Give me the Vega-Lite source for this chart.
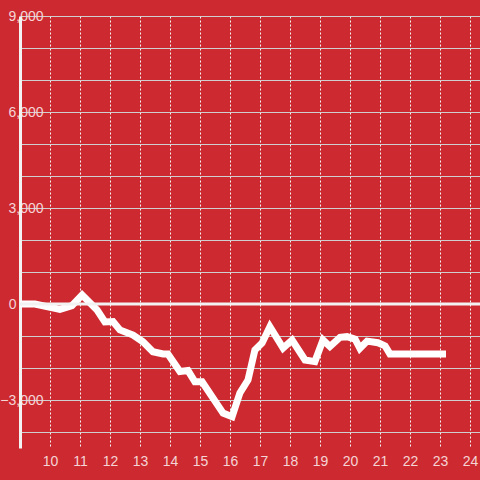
{
  "$schema": "https://vega.github.io/schema/vega-lite/v6.json",
  "autosize": "none",
  "width": 460,
  "height": 432,
  "padding": {"left": 20, "top": 16, "right": 0, "bottom": 32},
  "background": "#cc2a30",
  "config": {
    "view": {"stroke": null},
    "axis": {"labelFont": "Liberation Sans", "labelFontSize": 14, "labelColor": "#f5d4d6", "title": null}
  },
  "datasets": {
    "series": [
      {"hour": 9.0, "value": 0},
      {"hour": 9.5, "value": 0},
      {"hour": 10.33, "value": -170},
      {"hour": 10.73, "value": -50},
      {"hour": 11.07, "value": 280},
      {"hour": 11.57, "value": -190},
      {"hour": 11.83, "value": -560},
      {"hour": 12.1, "value": -550},
      {"hour": 12.33, "value": -810},
      {"hour": 12.77, "value": -970},
      {"hour": 13.1, "value": -1180},
      {"hour": 13.43, "value": -1490},
      {"hour": 13.77, "value": -1560},
      {"hour": 13.93, "value": -1560},
      {"hour": 14.33, "value": -2110},
      {"hour": 14.6, "value": -2080},
      {"hour": 14.83, "value": -2430},
      {"hour": 15.07, "value": -2430},
      {"hour": 15.77, "value": -3410},
      {"hour": 16.07, "value": -3520},
      {"hour": 16.33, "value": -2780},
      {"hour": 16.6, "value": -2375},
      {"hour": 16.83, "value": -1440},
      {"hour": 17.07, "value": -1220},
      {"hour": 17.33, "value": -710},
      {"hour": 17.77, "value": -1375},
      {"hour": 18.07, "value": -1125},
      {"hour": 18.5, "value": -1750},
      {"hour": 18.83, "value": -1800},
      {"hour": 19.1, "value": -1125},
      {"hour": 19.33, "value": -1330},
      {"hour": 19.67, "value": -1040},
      {"hour": 19.9, "value": -1020},
      {"hour": 20.17, "value": -1100},
      {"hour": 20.33, "value": -1385},
      {"hour": 20.57, "value": -1160},
      {"hour": 20.93, "value": -1210},
      {"hour": 21.17, "value": -1310},
      {"hour": 21.33, "value": -1560},
      {"hour": 23.2, "value": -1560}
    ],
    "zero": [{"value": 0}]
  },
  "encoding": {
    "y": {
      "field": "value", "type": "quantitative",
      "scale": {"domain": [-4500, 9000], "nice": false, "zero": false},
      "axis": {
        "values": [-4000, -3000, -2000, -1000, 0, 1000, 2000, 3000, 4000, 5000, 6000, 7000, 8000, 9000],
        "labelExpr": "datum.value % 3000 == 0 ? format(datum.value, ',') : ''",
        "domain": true, "domainColor": "#f2f2f2", "domainWidth": 3,
        "ticks": false, "tickSize": 0,
        "labelAlign": "right", "labelBaseline": "middle",
        "labelPadding": {"condition": {"test": "datum.value == 0", "value": 4}, "value": -23},
        "grid": true, "gridColor": "#cfcfcf", "gridWidth": 1,
        "labelFlush": false, "labelOverlap": false
      }
    }
  },
  "layer": [
    {
      "data": {"name": "series"},
      "mark": {"type": "line", "color": "#ffffff", "strokeWidth": 7, "strokeJoin": "miter"},
      "encoding": {
        "x": {
          "field": "hour", "type": "quantitative",
          "scale": {"domain": [9, 24.3333], "nice": false, "zero": false},
          "axis": {
            "values": [10, 11, 12, 13, 14, 15, 16, 17, 18, 19, 20, 21, 22, 23, 24],
            "domain": false, "ticks": false, "tickSize": 0, "labelPadding": 6,
            "grid": true, "gridColor": "#f4f4f4", "gridDash": [2, 2], "gridWidth": 1,
            "labelFlush": false, "labelOverlap": false
          }
        }
      }
    },
    {
      "data": {"name": "zero"},
      "mark": {"type": "rule", "color": "#f2f2f2", "strokeWidth": 3}
    }
  ]
}
